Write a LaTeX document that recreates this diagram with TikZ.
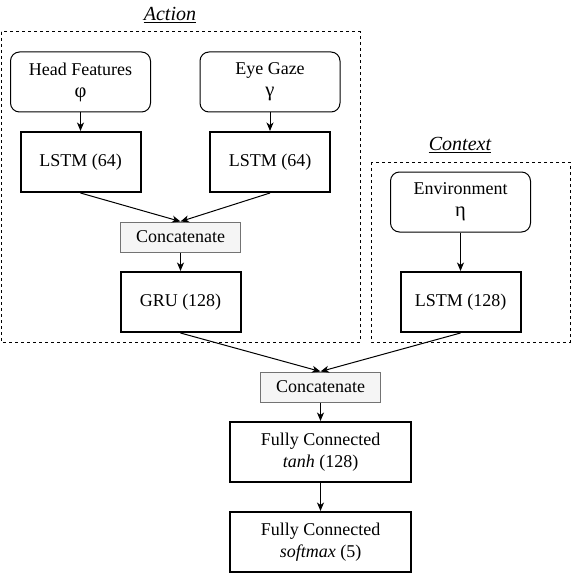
\documentclass[tikz,border=0pt]{standalone}
\usepackage{fontspec}
\setmainfont{Liberation Serif}
\usetikzlibrary{arrows.meta}
\newcommand{\gk}[1]{{\fontsize{20.5}{21.5}\selectfont #1}}
\tikzset{
  base/.style={font=\fontsize{18}{22}\selectfont, align=center, inner sep=0pt, text=black},
  inbox/.style={base, draw, line width=1pt, rounded corners=9pt, minimum width=140pt, minimum height=60pt},
  layer/.style={base, draw, line width=2pt, minimum width=120pt, minimum height=60pt},
  catbox/.style={base, draw=black!55, fill=black!4, line width=1pt, minimum width=120pt, minimum height=30pt},
  fcbox/.style={layer, minimum width=181pt},
  group/.style={draw, line width=1pt, dash pattern=on 3pt off 3pt},
  title/.style={font=\fontsize{20}{24}\selectfont\itshape, inner sep=0pt},
  uline/.style={line width=0.9pt},
  arr/.style={line width=1pt, -{Stealth[length=8.5pt,width=7pt,inset=2.5pt]}},
}
\begin{document}
\begin{tikzpicture}[x=1pt,y=-1pt]
\useasboundingbox (0,0) rectangle (571,575);
% groups
\draw[group] (1,32) rectangle (360,342);
\draw[group] (371,162) rectangle (570,342);
\node[title, anchor=base] (acttitle) at (170,20.5) {Action};
\draw[uline] ([yshift=-2.3pt]acttitle.base west) -- ([yshift=-2.3pt]acttitle.base east);
\node[title, anchor=base] (ctxtitle) at (460,150) {Context};
\draw[uline] ([yshift=-2.3pt]ctxtitle.base west) -- ([yshift=-2.3pt]ctxtitle.base east);
% nodes
\node[inbox] (hf) at (80.5,82) {Head Features\\\gk{φ}};
\node[inbox] (eg) at (270,82) {Eye Gaze\\\gk{γ}};
\node[layer] (l1) at (80.5,162) {LSTM (64)};
\node[layer] (l2) at (270,162) {LSTM (64)};
\node[catbox] (c1) at (180.5,237) {Concatenate};
\node[layer] (gru) at (180.5,302) {GRU (128)};
\node[inbox] (env) at (460.5,202) {Environment\\\gk{η}};
\node[layer] (l3) at (460.5,302) {LSTM (128)};
\node[catbox] (c2) at (320.5,387) {Concatenate};
\node[fcbox] (fc1) at (320.5,452) {Fully Connected\\\textit{tanh} (128)};
\node[fcbox] (fc2) at (320.5,542) {Fully Connected\\\textit{softmax} (5)};
% connectors
\draw[arr] (hf.south) -- (l1.north);
\draw[arr] (eg.south) -- (l2.north);
\draw[arr] (l1.south) -- (c1.north);
\draw[arr] (l2.south) -- (c1.north);
\draw[arr] (c1.south) -- (gru.north);
\draw[arr] (env.south) -- (l3.north);
\draw[arr] (gru.south) -- (c2.north);
\draw[arr] (l3.south) -- (c2.north);
\draw[arr] (c2.south) -- (fc1.north);
\draw[arr] (fc1.south) -- (fc2.north);
\end{tikzpicture}
\end{document}
